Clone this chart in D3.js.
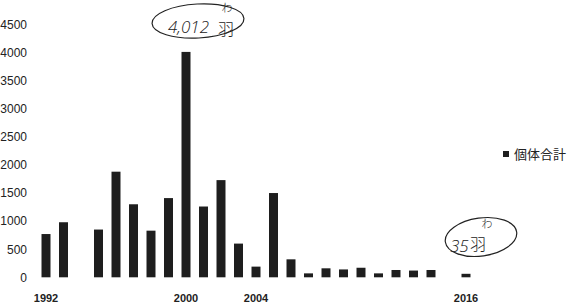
<!DOCTYPE html>
<html><head><meta charset="utf-8">
<script src="https://cdn.jsdelivr.net/npm/d3@7"></script>
<style>
html,body{margin:0;padding:0;background:#fff;}
svg{display:block;}
</style></head>
<body>
<svg id="c" width="568" height="307"></svg>
<script>
const years = ["1992","1993","1994","1995","1996","1997","1998","1999","2000","2001","2002","2003","2004","2005","2006","2007","2008","2009","2010","2011","2012","2013","2014","2015","2016"];
const totals = [770,980,null,850,1880,1300,830,1410,4012,1260,1730,600,190,1500,320,70,160,140,170,70,130,120,130,null,35];
const yTicks = [0,500,1000,1500,2000,2500,3000,3500,4000,4500];
const xLabels = ["1992","2000","2004","2016"];
const seriesName = "個体合計";
const notes = [{year:"2000", value:4012, num:"4,012"},{year:"2016", value:35, num:"35"}];

const svg = d3.select("#c");
const x = d3.scaleBand().domain(years).range([37.25, 474.75]).paddingInner(0.486).paddingOuter(0.243);
const y = d3.scaleLinear().domain([0,4500]).range([277.3, 24.5]);

const data = years.map((yr,i)=>({yr, v: totals[i]})).filter(d=>d.v!=null);

svg.append("g").selectAll("rect").data(data).enter().append("rect")
  .attr("x", d=>x(d.yr)).attr("width", x.bandwidth())
  .attr("y", d=>Math.min(y(d.v), y(0)-3.5)).attr("height", d=>Math.max(y(0)-y(d.v),3.5))
  .attr("fill","#1e1e1e");

const ya = d3.axisLeft(y).tickValues(yTicks).tickSize(0).tickPadding(0).tickFormat(d3.format("d"));
const gy = svg.append("g").attr("transform","translate(27,0)").call(ya);
gy.select(".domain").remove();
gy.selectAll("text").attr("font-family","'Liberation Sans', Arial, sans-serif").attr("font-size",12).attr("fill","#222");

const xa = d3.axisBottom(x).tickValues(xLabels).tickSize(0).tickPadding(0);
const gx = svg.append("g").attr("transform","translate(0,294)").call(xa);
gx.select(".domain").remove();
gx.selectAll("text").attr("font-family","'Liberation Sans Narrow','Arial Narrow','Liberation Sans',sans-serif")
  .attr("font-weight","bold").attr("font-size",11).attr("fill","#222");

// legend
const lg = svg.append("g").attr("transform","translate(503,154)");
lg.append("rect").attr("x",0).attr("y",-3).attr("width",6).attr("height",6).attr("fill","#1e1e1e");
lg.append("text").attr("x",11).attr("y",0).attr("dy","0.36em").attr("font-family","'Noto Sans CJK JP',sans-serif")
  .attr("font-size",13).attr("fill","#222").text(seriesName);

// handwritten annotations
const hand = "'Open Sans','DejaVu Sans',sans-serif";
const cjk = "'Noto Sans CJK JP',sans-serif";
const ann = [
  {dx: 12, cy: 21, rx: 46, ry: 17, rot: -3, fs: 17, numX: -30, numY: 12, kanX: 20, kanY: 14, kfs: 16, waX: 29, waY: -9, wfs: 11},
  {dx: 15, cy: 237, rx: 36, ry: 19, rot: -8, fs: 17, numX: -31, numY: 15, kanX: -11, kanY: 13, kfs: 16, waX: 6, waY: -9, wfs: 11}
];
notes.forEach((n,i)=>{
  const a = ann[i];
  const cx = x(n.year)+x.bandwidth()/2+a.dx;
  const g = svg.append("g").attr("transform",`translate(${cx},${a.cy})`);
  g.append("ellipse").attr("rx",a.rx).attr("ry",a.ry).attr("fill","none").attr("stroke","#222").attr("stroke-width",1.2)
    .attr("transform",`rotate(${a.rot})`);
  g.append("text").attr("x",a.numX).attr("y",a.numY).attr("font-family",hand).attr("font-weight",300)
    .attr("font-style","italic").attr("font-size",a.fs).attr("fill","#222").text(n.num);
  g.append("text").attr("x",a.kanX).attr("y",a.kanY).attr("font-family",cjk).attr("font-weight",300)
    .attr("font-size",a.kfs).attr("fill","#222").text("羽");
  g.append("text").attr("x",a.waX).attr("y",a.waY).attr("text-anchor","middle").attr("font-family",cjk).attr("font-weight",300)
    .attr("font-size",a.wfs).attr("fill","#222").text("わ");
});
</script>
</body></html>
